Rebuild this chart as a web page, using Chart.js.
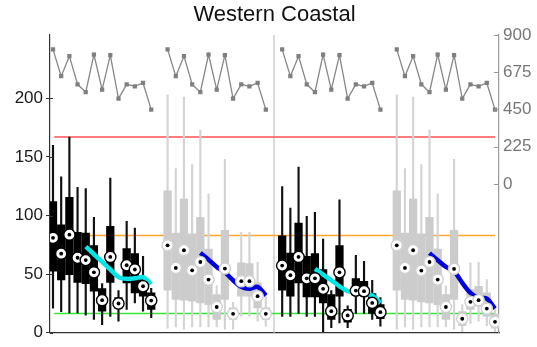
<!DOCTYPE html>
<html>
<head>
<meta charset="utf-8">
<script src="https://cdn.jsdelivr.net/npm/chart.js@4.4.1/dist/chart.umd.min.js"></script>
<style>
  html, body { margin: 0; padding: 0; background: #fff; }
</style>
</head>
<body>
<canvas id="chart" width="537" height="347"></canvas>
<script>
const slots = [1, 2, 3, 4, 5, 6, 7, 8, 9, 10, 11, 12, 13];
const groupStart = [0, 14, 28, 42];
const separatorAt = 28;

// per group: whisker low, q1, median, q3, whisker high
const g1Low  = [21, 18, 17, 17, 15, 11.5, 7, 14, 10, 20, 25.5, 18.5, 12.8];
const g1Q1   = [52.5, 45, 49.6, 43, 42, 35.5, 18.5, 43, 21, 42.6, 34, 31.2, 20];
const g1Med  = [81, 67.5, 83.7, 64, 62, 51.6, 27.8, 64.7, 25, 57.6, 54, 39.7, 27.5];
const g1Q3   = [112, 92, 115.5, 85.7, 85, 74.3, 37.7, 90.8, 30, 71.8, 67.5, 45.4, 34];
const g1High = [160, 133, 167, 124, 123, 98.4, 42, 132, 36, 95, 89.4, 65.3, 38];

const g2Low  = [4, 5, 3, 5, 5, 5, 5, 3, 3, 14, 14, 10, 5.7];
const g2Q1   = [36.3, 28.4, 27.8, 27, 25.5, 24, 11.5, 28.4, 11.5, 31.2, 31.2, 21.3, 11.4];
const g2Med  = [74.6, 55.3, 70.4, 53.3, 60.4, 45.4, 22, 54.8, 16.2, 44, 44, 31.2, 16.2];
const g2Q3   = [121, 85, 114, 84.5, 98.4, 71.5, 32.6, 87.4, 21.3, 59.6, 59, 42.6, 21.3];
const g2High = [203, 140, 201, 143.5, 173, 118.6, 40, 148, 26, 85.7, 85.7, 60, 34];

const g3Low  = [14, 14, 16.5, 14, 14, 1, 4.3, 8.5, 4.3, 16.5, 16.5, 11.4, 5.7];
const g3Q1   = [36.3, 31.2, 42.6, 30.6, 30.6, 25.5, 11.4, 31.2, 9, 31.8, 31.2, 16.5, 12];
const g3Med  = [57.3, 49.1, 64.7, 46.5, 46.5, 37.5, 18.4, 51.6, 14.8, 36, 35.5, 25.5, 17.6];
const g3Q3   = [82.8, 68.1, 93.6, 65.3, 67.5, 53.9, 32.6, 74.3, 20, 46.2, 44, 33.5, 24];
const g3High = [124.8, 106.4, 141.3, 99.3, 102.7, 80, 36, 113.5, 23, 66, 61, 44.8, 30];

const g4Low  = [3, 5, 3, 5, 5, 5, 5, 3, 1, 8, 10, 6, 1];
const g4Q1   = [36.3, 28.4, 27.8, 26.4, 25.5, 24, 11.5, 28.4, 6, 19.9, 22.7, 14.2, 4];
const g4Med  = [74.6, 55.3, 70.4, 53.1, 60.4, 45.4, 22, 54.5, 12, 26.4, 27.8, 20.7, 9.4];
const g4Q3   = [121, 85, 114, 84.5, 98.4, 71.5, 32.6, 87.4, 18, 36.9, 39.7, 34.1, 16];
const g4High = [203, 140, 201, 143.5, 173, 118.6, 40, 148, 24, 59.6, 60.2, 45.4, 22];

// smoothed trend over slots 5..13
const trendSlots = [5, 6, 7, 8, 9, 10, 11, 12, 13];
const trend1 = [73.5, 67, 60.5, 54, 47.5, 46, 46.5, 47.5, 41.5];
const trend2 = [68, 62.4, 56.2, 51.6, 44.8, 39.2, 37.5, 39.2, 31.8];
const trend3 = [54.5, 49.7, 44.8, 39.7, 35.5, 34.6, 33.5, 31.8, 25.5];
const trend4 = [68, 61.9, 56.2, 52.5, 42.6, 34, 29.8, 29.2, 20.7];

// counts on right axis, same in every group
const topCounts = [813, 651, 772, 602, 554, 782, 570, 778, 516, 602, 590, 610, 449];

const refLevels = [167, 83, 16.5];
const refColors = ['#ff5050', '#ffa530', '#33e833'];

const leftTicks = [0, 50, 100, 150, 200];
const rightTicks = [0, 225, 450, 675, 900];

const FONT = 'Liberation Sans, Arial, sans-serif';

function boxSets(g, low, q1, med, q3, high, dark) {
  const xs = slots.map(s => groupStart[g] + s);
  return [
    { type: 'bar', data: xs.map((x, i) => ({ x, y: [low[i], high[i]] })),
      backgroundColor: dark ? '#111' : '#d4d4d4', barThickness: 2, maxBarThickness: 1.5,
      grouped: false, order: 4 },
    { type: 'bar', data: xs.map((x, i) => ({ x, y: [q1[i], q3[i]] })),
      backgroundColor: dark ? '#000' : '#cccccc', barThickness: 8, maxBarThickness: 7.6,
      grouped: false, order: 3 },
    { type: 'scatter', data: xs.map((x, i) => ({ x, y: med[i] })),
      pointRadius: 5.6, pointBorderWidth: 1.4, pointBackgroundColor: '#fff',
      pointBorderColor: dark ? '#000' : '#d0d0d0', order: 1 },
    { type: 'scatter', data: xs.map((x, i) => ({ x, y: med[i] })),
      pointRadius: 1.9, pointBorderWidth: 0, pointBackgroundColor: '#000', order: 0 }
  ];
}

function trendSet(g, vals, color) {
  return { type: 'line', data: trendSlots.map((s, i) => ({ x: groupStart[g] + s, y: vals[i] })),
    borderColor: color, borderWidth: 4.5, pointRadius: 0, tension: 0.3, order: 2 };
}

function countSet(g) {
  return { type: 'line', yAxisID: 'y2',
    data: slots.map((s, i) => ({ x: groupStart[g] + s, y: topCounts[i] })),
    borderColor: '#888', borderWidth: 1.3, pointStyle: 'rect', pointRadius: 3,
    pointBackgroundColor: '#7f7f7f', pointBorderWidth: 0, order: 2 };
}

const datasets = [
  ...boxSets(0, g1Low, g1Q1, g1Med, g1Q3, g1High, true),
  ...boxSets(1, g2Low, g2Q1, g2Med, g2Q3, g2High, false),
  ...boxSets(2, g3Low, g3Q1, g3Med, g3Q3, g3High, true),
  ...boxSets(3, g4Low, g4Q1, g4Med, g4Q3, g4High, false),
  trendSet(0, trend1, '#00e5e5'),
  trendSet(1, trend2, '#0000dc'),
  trendSet(2, trend3, '#00e5e5'),
  trendSet(3, trend4, '#0000dc'),
  countSet(0), countSet(1), countSet(2), countSet(3),
  ...refLevels.map((v, i) => ({ type: 'line', data: [{ x: 1.15, y: v }, { x: 55, y: v }],
    borderColor: refColors[i], backgroundColor: refColors[i], fill: false,
    borderWidth: 1.5, pointRadius: 0, order: 5 })),
  { type: 'line', data: [{ x: separatorAt, y: 0 }, { x: separatorAt, y: 254 }],
    borderColor: '#cfcfcf', borderWidth: 1.5, pointRadius: 0, order: 6 }
];

const innerTicks = {
  id: 'innerTicks',
  afterDatasetsDraw(chart) {
    const { ctx, chartArea, scales } = chart;
    ctx.save();
    ctx.lineWidth = 1;
    ctx.strokeStyle = '#333';
    leftTicks.forEach(v => {
      const y = Math.round(scales.y.getPixelForValue(v)) + 0.5;
      ctx.beginPath(); ctx.moveTo(chartArea.left, y); ctx.lineTo(chartArea.left + 3, y); ctx.stroke();
    });
    ctx.strokeStyle = '#999';
    rightTicks.forEach(v => {
      const y = Math.round(scales.y2.getPixelForValue(v)) + 0.5;
      ctx.beginPath(); ctx.moveTo(chartArea.right - 5, y); ctx.lineTo(chartArea.right, y); ctx.stroke();
    });
    ctx.restore();
  }
};

new Chart(document.getElementById('chart'), {
  type: 'bar',
  data: { datasets },
  plugins: [innerTicks],
  options: {
    responsive: false,
    animation: false,
    events: [],
    plugins: { legend: { display: false }, tooltip: { enabled: false }, title: { display: false } },
    scales: {
      x: {
        type: 'linear', min: 0.633, max: 55.49, offset: false,
        grid: { drawOnChartArea: false, drawTicks: false },
        border: { display: true, color: '#333', width: 1.2 },
        ticks: { display: false },
        afterFit: s => { s.height = 13.5; }
      },
      top: {
        type: 'linear', position: 'top', axis: 'x',
        grid: { display: false }, border: { display: false }, ticks: { display: false },
        title: { display: true, text: 'Western Coastal', color: '#111',
          font: { family: FONT, size: 22 }, padding: { top: 2, bottom: 0 } },
        afterFit: s => { s.height = 35; }
      },
      y: {
        position: 'left', min: 0, max: 254,
        afterBuildTicks: s => { s.ticks = leftTicks.map(v => ({ value: v })); },
        grid: { drawOnChartArea: false, drawTicks: true, tickLength: 4, color: '#333' },
        border: { display: true, color: '#333', width: 1.2 },
        ticks: { color: '#1a1a1a', font: { family: FONT, size: 17 }, padding: 3 },
        afterFit: s => { s.width = 50; }
      },
      y2: {
        position: 'right', min: -900, max: 900,
        afterBuildTicks: s => { s.ticks = rightTicks.map(v => ({ value: v })); },
        grid: { drawOnChartArea: false, drawTicks: false },
        border: { display: true, color: '#999', width: 1.2 },
        ticks: { color: '#777', font: { family: FONT, size: 17 }, padding: 4 },
        afterFit: s => { s.width = 38; }
      }
    }
  }
});
</script>
</body>
</html>
